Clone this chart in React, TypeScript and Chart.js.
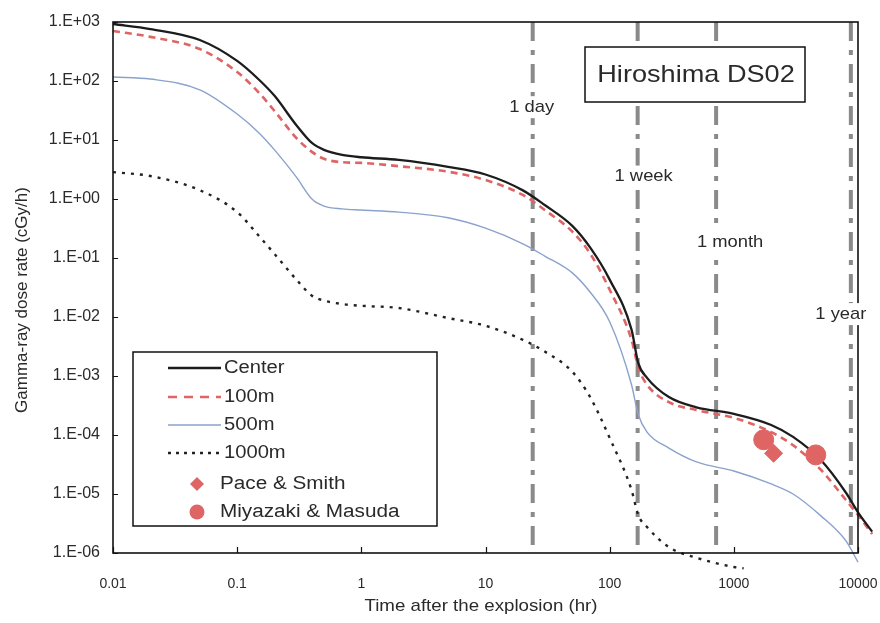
import React, { useEffect, useRef } from "react";
import { Chart, registerables } from "chart.js";
Chart.register(...registerables);

// ---- data ----
const timeHours = [0.01, 0.02, 0.05, 0.1, 0.15, 0.2, 0.3, 0.4, 0.5, 0.7, 1, 2, 5, 10, 20, 30, 50, 70, 100, 150, 170, 200, 300, 500, 1000, 2000, 3000, 5000, 8000, 10000, 13000];
const centerRate = [925, 760, 495, 219, 105, 56, 17.8, 8.9, 6.8, 5.6, 5.1, 4.6, 3.5, 2.6, 1.4, 0.79, 0.35, 0.148, 0.043, 0.0061, 1.65e-3, 9.3e-4, 4.4e-4, 2.95e-4, 2.28e-4, 1.48e-4, 9.3e-5, 3.8e-5, 1.05e-5, 4.9e-6, 2.3e-6];
const rate100m = [705, 560, 348, 142, 63, 31, 10.8, 6.3, 4.8, 4.2, 4.1, 3.6, 2.9, 2.1, 1.17, 0.65, 0.28, 0.117, 0.029, 0.0041, 1.4e-3, 7.1e-4, 3.6e-4, 2.65e-4, 1.95e-4, 1.12e-4, 6.7e-5, 2.6e-5, 7.9e-6, 4.4e-6, 2.1e-6];
const time500m = [0.01, 0.02, 0.05, 0.1, 0.15, 0.2, 0.3, 0.4, 0.5, 0.7, 1, 2, 5, 10, 20, 30, 50, 70, 100, 150, 170, 200, 300, 500, 1000, 2000, 3000, 5000, 8000, 10000];
const rate500m = [117, 108, 71, 27.6, 13.2, 6.8, 2.35, 1.0, 0.76, 0.68, 0.65, 0.6, 0.48, 0.32, 0.174, 0.108, 0.056, 0.026, 0.0083, 7.1e-4, 2.2e-4, 1.12e-4, 6.0e-5, 3.5e-5, 2.45e-5, 1.48e-5, 1.0e-5, 4.3e-6, 1.6e-6, 7e-7];
const time1000m = [0.01, 0.02, 0.05, 0.1, 0.15, 0.2, 0.3, 0.4, 0.5, 0.7, 1, 2, 5, 10, 20, 30, 50, 70, 100, 150, 170, 200, 300, 500, 1000, 1200];
const rate1000m = [2.86, 2.45, 1.41, 0.6, 0.235, 0.117, 0.043, 0.023, 0.019, 0.0166, 0.0155, 0.0142, 0.0096, 0.0071, 0.0041, 0.0026, 0.00118, 4.3e-4, 8.9e-5, 1.17e-5, 4.4e-6, 2.75e-6, 1.26e-6, 8.3e-7, 5.8e-7, 5.5e-7];
const paceHours = [2090];
const paceRate = [4.9e-5];
const miyazakiHours = [1740, 4570];
const miyazakiRate = [8.3e-5, 4.6e-5];

const eventHours = [24, 168, 720, 8760];
const eventLabels = ["1 day", "1 week", "1 month", "1 year"];
const eventLabelRate = [36, 2.4, 0.186, 0.0112];

const xTickValues = [0.01, 0.1, 1, 10, 100, 1000, 10000];
const xTickLabels = ["0.01", "0.1", "1", "10", "100", "1000", "10000"];
const yTickValues = [1e-6, 1e-5, 1e-4, 1e-3, 1e-2, 1e-1, 1, 10, 100, 1000];
const yTickLabels = ["1.E-06", "1.E-05", "1.E-04", "1.E-03", "1.E-02", "1.E-01", "1.E+00", "1.E+01", "1.E+02", "1.E+03"];

const chartTitle = "Hiroshima DS02";
const xTitle = "Time after the explosion (hr)";
const yTitle = "Gamma-ray dose rate (cGy/h)";

const FONT = "Arial, 'Liberation Sans', sans-serif";
const TEXT = "#2a2a2a";
const RED = "#df6464";

const pts = (xs: number[], ys: number[]) => xs.map((x, i) => ({ x, y: ys[i] }));

// draw horizontally-stretched text (the scanned figure has wide glyphs)
function wideText(ctx: CanvasRenderingContext2D, t: string, x: number, y: number, size: number, align: CanvasTextAlign, sx: number) {
  ctx.save();
  ctx.font = `${size}px ${FONT}`;
  ctx.textAlign = align;
  ctx.textBaseline = "middle";
  ctx.translate(x, y);
  ctx.scale(sx, 1);
  ctx.fillText(t, 0, 0);
  ctx.restore();
}

const labelDx = [-1, 6, 14, -10];

const decor = {
  id: "decor",
  beforeDraw(chart: any) {
    const { ctx, width, height } = chart;
    ctx.save();
    ctx.fillStyle = "#ffffff";
    ctx.fillRect(0, 0, width, height);
    ctx.restore();
  },
  afterDraw(chart: any) {
    const { ctx, chartArea: a, scales } = chart;
    const x = scales.x;
    const y = scales.y;
    ctx.save();
    // frame
    ctx.strokeStyle = "#111";
    ctx.lineWidth = 1.6;
    ctx.strokeRect(a.left, a.top, a.right - a.left, a.bottom - a.top);
    // inner tick marks
    ctx.lineWidth = 1.2;
    ctx.beginPath();
    yTickValues.forEach((v) => {
      const py = Math.round(y.getPixelForValue(v)) + 0.5;
      ctx.moveTo(a.left, py);
      ctx.lineTo(a.left + 5, py);
    });
    xTickValues.forEach((v) => {
      const px = Math.round(x.getPixelForValue(v)) + 0.5;
      ctx.moveTo(px, a.bottom);
      ctx.lineTo(px, a.bottom - 6);
    });
    ctx.stroke();

    // event labels
    eventLabels.forEach((t, i) => {
      const px = x.getPixelForValue(eventHours[i]) + labelDx[i];
      const py = y.getPixelForValue(eventLabelRate[i]);
      ctx.font = `17px ${FONT}`;
      const w = ctx.measureText(t).width * 1.08;
      ctx.fillStyle = "#fff";
      ctx.fillRect(px - w / 2 - 2, py - 11, w + 4, 22);
      ctx.fillStyle = TEXT;
      wideText(ctx, t, px, py, 17, "center", 1.08);
    });

    // title box
    ctx.fillStyle = "#fff";
    ctx.fillRect(585, 47, 220, 55);
    ctx.strokeStyle = "#111";
    ctx.lineWidth = 1.5;
    ctx.strokeRect(585, 47, 220, 55);
    ctx.fillStyle = TEXT;
    wideText(ctx, chartTitle, 696, 75, 24, "center", 1.13);

    // axis titles
    wideText(ctx, xTitle, 481, 606, 17, "center", 1.1);
    ctx.save();
    ctx.translate(22, 300);
    ctx.rotate(-Math.PI / 2);
    wideText(ctx, yTitle, 0, 0, 17, "center", 1.0);
    ctx.restore();

    // legend
    const lx = 133, ly = 352, lw = 304, lh = 174;
    ctx.fillStyle = "#fff";
    ctx.fillRect(lx, ly, lw, lh);
    ctx.strokeStyle = "#111";
    ctx.lineWidth = 1.5;
    ctx.strokeRect(lx, ly, lw, lh);
    const rows = [368, 397, 425, 453, 484, 512];
    const ds = chart.data.datasets;
    for (let i = 0; i < 6; i++) {
      const d = ds[i];
      const ry = rows[i];
      if (i < 4) {
        ctx.beginPath();
        ctx.strokeStyle = d.borderColor;
        ctx.lineWidth = d.borderWidth;
        ctx.setLineDash(i === 1 ? [9, 7] : i === 3 ? [3, 5] : []);
        ctx.moveTo(168, ry);
        ctx.lineTo(221, ry);
        ctx.stroke();
        ctx.setLineDash([]);
        ctx.fillStyle = TEXT;
        wideText(ctx, d.label, 224, ry, 18, "left", 1.12);
      } else {
        ctx.fillStyle = d.backgroundColor;
        ctx.beginPath();
        if (i === 4) {
          const r = 7;
          ctx.moveTo(197, ry - r);
          ctx.lineTo(197 + r, ry);
          ctx.lineTo(197, ry + r);
          ctx.lineTo(197 - r, ry);
          ctx.closePath();
        } else {
          ctx.arc(197, ry, 7.5, 0, Math.PI * 2);
        }
        ctx.fill();
        ctx.fillStyle = TEXT;
        wideText(ctx, d.label, 220, ry, 18, "left", 1.15);
      }
    }
    ctx.restore();
  },
};

export default function App() {
  const ref = useRef<HTMLCanvasElement | null>(null);
  useEffect(() => {
    if (!ref.current) return;
    Chart.defaults.font.family = FONT;
    const lineCommon = { pointRadius: 0, cubicInterpolationMode: "monotone" as const, clip: false as any, fill: false };
    const chart = new Chart(ref.current, {
      type: "line",
      data: {
        datasets: [
          { label: "Center", data: pts(timeHours, centerRate), borderColor: "#1c1c1c", borderWidth: 2.3, order: 1, ...lineCommon },
          { label: "100m", data: pts(timeHours, rate100m), borderColor: RED, borderWidth: 2.6, borderDash: [7, 5], order: 2, ...lineCommon },
          { label: "500m", data: pts(time500m, rate500m), borderColor: "#8aa2cc", borderWidth: 1.4, order: 3, ...lineCommon },
          { label: "1000m", data: pts(time1000m, rate1000m), borderColor: "#222", borderWidth: 2.4, borderDash: [3, 6], order: 4, ...lineCommon },
          { label: "Pace & Smith", type: "scatter", data: pts(paceHours, paceRate), pointStyle: "rectRot", pointRadius: 9, backgroundColor: RED, borderColor: RED, order: 0 } as any,
          { label: "Miyazaki & Masuda", type: "scatter", data: pts(miyazakiHours, miyazakiRate), pointStyle: "circle", pointRadius: 10, backgroundColor: RED, borderColor: RED, order: 0 } as any,
          ...eventHours.map((h, i) => ({
            label: eventLabels[i],
            data: [{ x: h, y: yTickValues[yTickValues.length - 1] }, { x: h, y: yTickValues[0] }],
            borderColor: "#8a8a8a",
            borderWidth: 4,
            borderDash: [19, 9, 5, 9],
            pointRadius: 0,
            order: 9,
          })),
        ],
      },
      options: {
        responsive: false,
        animation: false,
        events: [],
        layout: { padding: { top: 22, right: 22, bottom: 0, left: 0 } },
        plugins: { legend: { display: false }, tooltip: { enabled: false }, title: { display: false } },
        scales: {
          x: {
            type: "logarithmic",
            bounds: "data",
            afterDataLimits: (s: any) => { s.min = xTickValues[0]; s.max = xTickValues[xTickValues.length - 1]; },
            grid: { display: false },
            border: { display: false },
            afterFit: (s: any) => { s.height = 70; s.paddingLeft = 0; s.paddingRight = 0; },
            afterBuildTicks: (s: any) => {
              s.min = xTickValues[0];
              s.max = xTickValues[xTickValues.length - 1];
              s.ticks = xTickValues.map((v) => ({ value: v }));
            },
            ticks: {
              autoSkip: false,
              maxRotation: 0,
              padding: 15,
              color: TEXT,
              font: { size: 14, family: FONT },
              callback: (_v: any, i: number) => xTickLabels[i],
            },
          },
          y: {
            type: "logarithmic",
            min: 1e-6,
            max: 1000,
            grid: { display: false },
            border: { display: false },
            afterFit: (s: any) => { s.width = 113; s.paddingTop = 0; s.paddingBottom = 0; },
            afterBuildTicks: (s: any) => { s.ticks = yTickValues.map((v) => ({ value: v })); },
            ticks: {
              autoSkip: false,
              padding: 5,
              color: TEXT,
              font: { size: 16, family: FONT },
              callback: (_v: any, i: number) => yTickLabels[i],
            },
          },
        },
      },
      plugins: [decor],
    } as any);
    return () => chart.destroy();
  }, []);
  return (
    <div style={{ position: "fixed", left: 0, top: 0, width: 880, height: 623, background: "#fff" }}>
      <canvas ref={ref} width={880} height={623} style={{ width: 880, height: 623 }} />
    </div>
  );
}
